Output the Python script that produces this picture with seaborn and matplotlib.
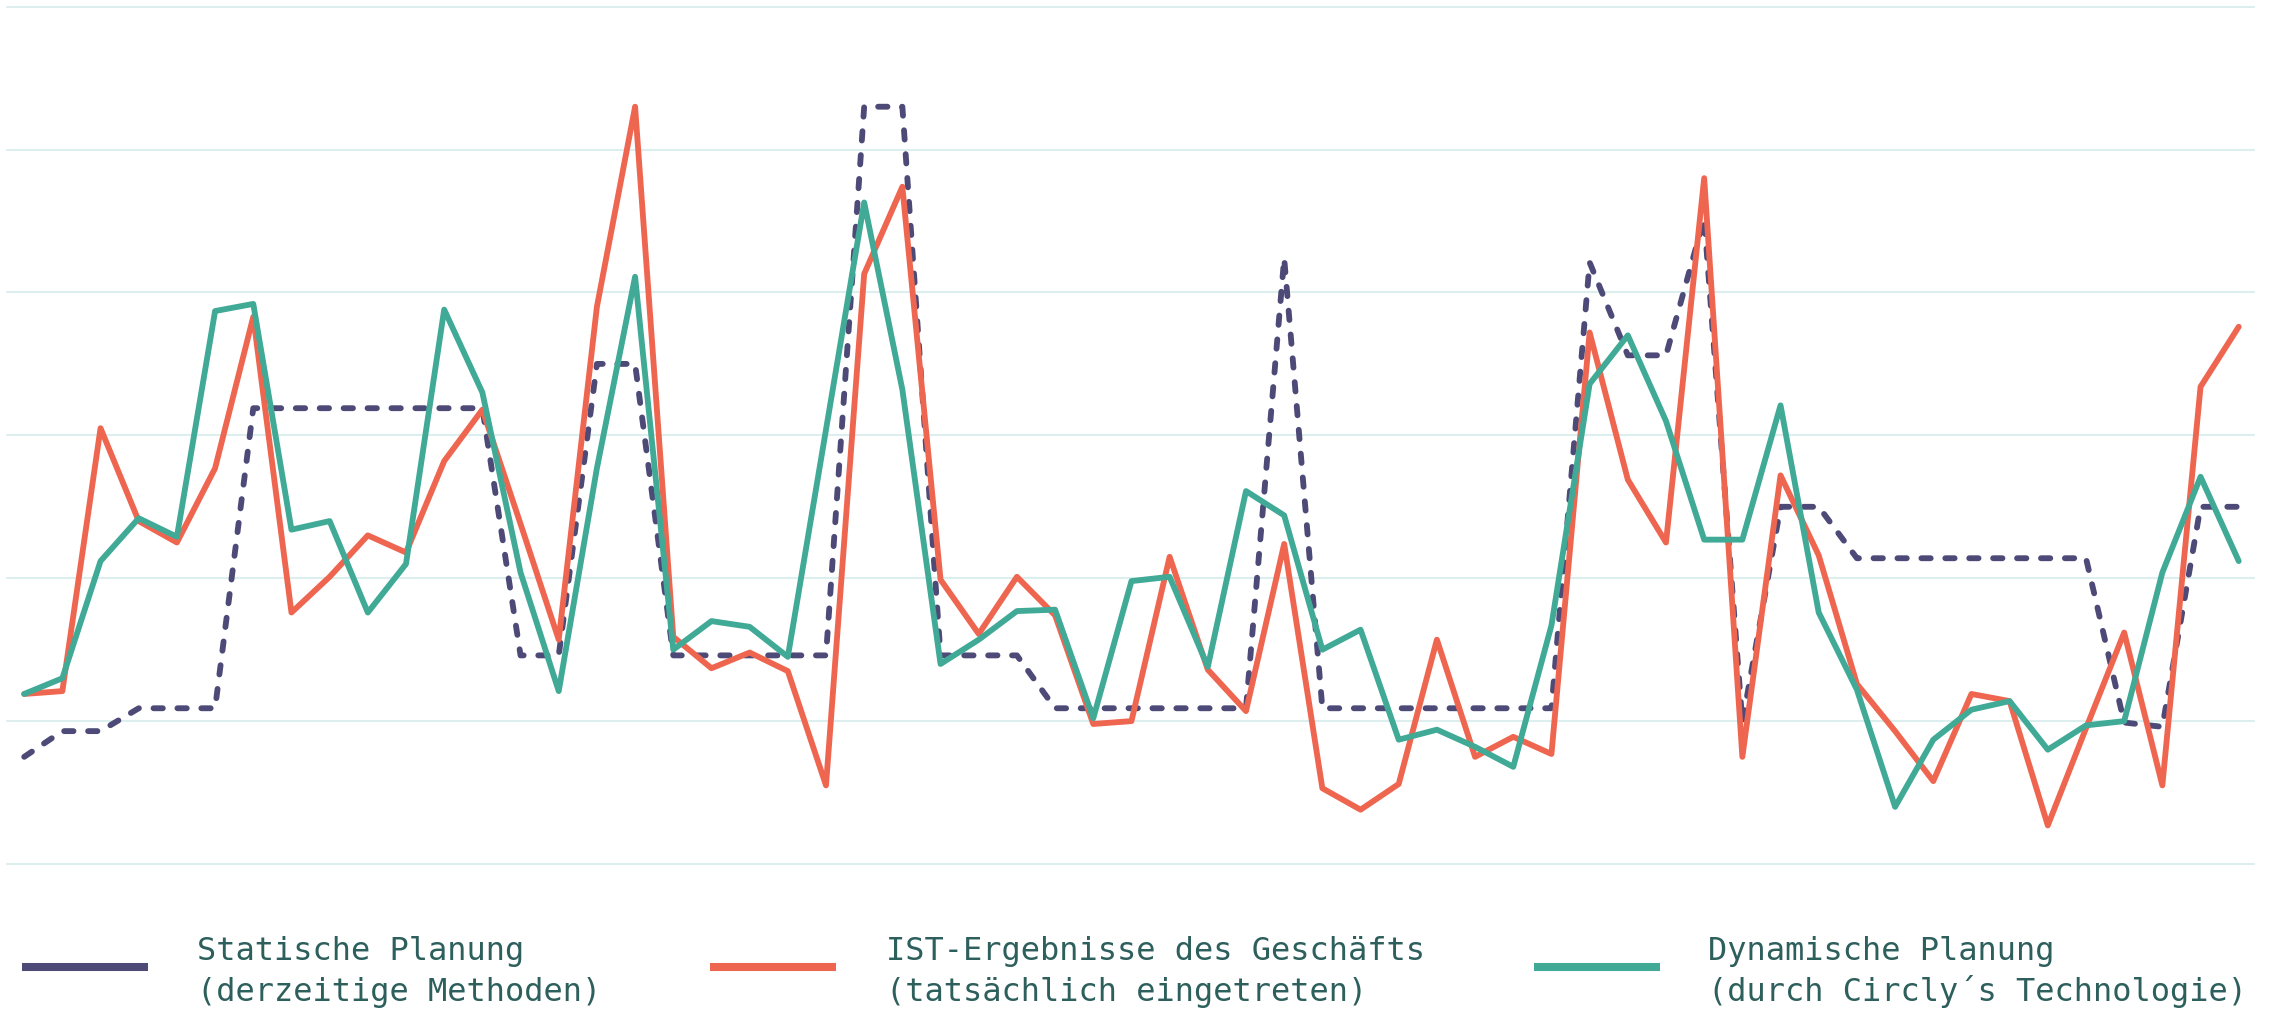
import numpy as np
import pandas as pd
import matplotlib
matplotlib.use('Agg')
import matplotlib.pyplot as plt
from matplotlib.lines import Line2D
import seaborn as sns

# ---------------------------------------------------------
# Data (one value per period)
# ---------------------------------------------------------
statisch = [7.5, 9.3, 9.3, 10.9, 10.9, 10.9, 31.9, 31.9, 31.9, 31.9,
            31.9, 31.9, 31.9, 14.6, 14.6, 35.0, 35.0, 14.6, 14.6, 14.6,
            14.6, 14.6, 53.0, 53.0, 14.6, 14.6, 14.6, 10.9, 10.9, 10.9,
            10.9, 10.9, 10.9, 42.4, 10.9, 10.9, 10.9, 10.9, 10.9, 10.9,
            10.9, 42.1, 35.6, 35.6, 45.2, 9.9, 25.0, 25.0, 21.4, 21.4,
            21.4, 21.4, 21.4, 21.4, 21.4, 9.9, 9.6, 25.0, 25.0]

ist = [11.9, 12.1, 30.5, 24.0, 22.5, 27.7, 38.3, 17.6, 20.1, 23.0,
       21.8, 28.2, 31.8, 23.8, 15.7, 39.0, 53.0, 15.9, 13.7, 14.8,
       13.5, 5.5, 41.3, 47.4, 19.9, 16.1, 20.1, 17.4, 9.8, 10.0,
       21.5, 13.6, 10.7, 22.4, 5.3, 3.8, 5.6, 15.7, 7.5, 8.9,
       7.7, 37.2, 26.9, 22.5, 48.0, 7.5, 27.2, 21.6, 12.6, 9.3,
       5.8, 11.9, 11.4, 2.7, 9.5, 16.2, 5.5, 33.4, 37.6]

dynamisch = [11.9, 13.0, 21.2, 24.2, 22.9, 38.7, 39.2, 23.4, 24.0, 17.6,
             21.0, 38.8, 33.0, 20.4, 12.1, 27.7, 41.1, 15.0, 17.0, 16.6,
             14.5, 30.4, 46.3, 33.2, 14.0, 15.7, 17.7, 17.8, 10.2, 19.8,
             20.1, 13.8, 26.1, 24.4, 15.0, 16.4, 8.7, 9.4, 8.2, 6.8,
             16.7, 33.6, 37.0, 31.0, 22.7, 22.7, 32.1, 17.6, 12.2, 4.0,
             8.7, 10.8, 11.4, 8.0, 9.7, 10.0, 20.4, 27.1, 21.2]

serien = ['Statische Planung\n(derzeitige Methoden)',
          'IST-Ergebnisse des Geschäfts\n(tatsächlich eingetreten)',
          'Dynamische Planung\n(durch Circly\u00b4s Technologie)']
farben = ['#4d4a78', '#ef6650', '#40aa97']
y_ticks = [0, 10, 20, 30, 40, 50, 60]

# long-form table for seaborn
perioden = np.arange(len(ist))
df = pd.concat([
    pd.DataFrame({'periode': perioden, 'wert': werte, 'reihe': name})
    for name, werte in zip(serien, [statisch, ist, dynamisch])
], ignore_index=True)

# ---------------------------------------------------------
# Plot
# ---------------------------------------------------------
sns.set_theme(style='white')
plt.rcParams['font.family'] = ['DejaVu Sans Mono', 'DejaVu Sans']

W, H = 2269, 1009
fig = plt.figure(figsize=(W / 100, H / 100), dpi=100)
ax = fig.add_axes([7 / W, 1 - 864 / H, (2254 - 7) / W, (864 - 6.7) / H])

sns.lineplot(data=df, x='periode', y='wert', hue='reihe', style='reihe',
             hue_order=serien, style_order=serien,
             palette=dict(zip(serien, farben)),
             dashes={serien[0]: (1.6, 2.5), serien[1]: '', serien[2]: ''},
             estimator=None, linewidth=4.2, legend=False, ax=ax)

for line in ax.lines:
    line.set_dash_capstyle('round')
    line.set_solid_joinstyle('round')
    line.set_dash_joinstyle('round')
    line.set_solid_capstyle('round')

ax.set_xlim(-0.45, 58.4)
ax.set_ylim(0, 60)
ax.set_yticks(y_ticks)
ax.yaxis.grid(True, color='#dceeed', linewidth=1.5, clip_on=False)
ax.xaxis.grid(False)
ax.set_axisbelow(True)
ax.tick_params(length=0, labelleft=False, labelbottom=False)
ax.set_xlabel('')
ax.set_ylabel('')
for s in ax.spines.values():
    s.set_visible(False)

# legend row at the bottom (handles are solid bars, labels on two lines)
handle_x = [(22, 148), (710, 836), (1534, 1660)]
text_x = [197, 886, 1708]
baselines = [960, 1001]
for (x0, x1), tx, name, c in zip(handle_x, text_x, serien, farben):
    fig.add_artist(Line2D([x0 / W, x1 / W], [1 - 967 / H, 1 - 967 / H],
                          transform=fig.transFigure, color=c,
                          linewidth=5.8, solid_capstyle='butt'))
    for zeile, by in zip(name.split('\n'), baselines):
        fig.text(tx / W, 1 - by / H, zeile, fontsize=23, color='#2d5f5c',
                 va='baseline', ha='left')

fig.savefig('out.png', dpi=100)
